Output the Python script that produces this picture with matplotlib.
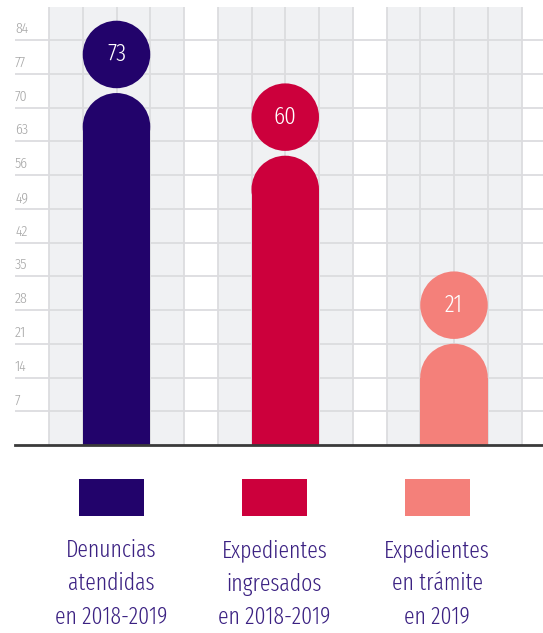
import matplotlib
matplotlib.use("Agg")
import matplotlib.pyplot as plt
from matplotlib.patches import Rectangle, Ellipse

categories = ["Denuncias\natendidas\nen 2018-2019",
              "Expedientes\ningresados\nen 2018-2019",
              "Expedientes\nen trámite\nen 2019"]
values = [73, 60, 21]
colors = ["#22036b", "#cc003c", "#f4807a"]
ytick_values = [7, 14, 21, 28, 35, 42, 49, 56, 63, 70, 77, 84]

W, H = 543, 633
FONT = ["Fira Sans Extra Condensed", "DejaVu Sans"]
fig = plt.figure(figsize=(W / 100, H / 100), dpi=100)

# chart axes: pixel x 15..543, y 7..445
x0p, x1p, y0p, y1p = 15, 543, 7, 445
ax = fig.add_axes([x0p / W, 1 - y1p / H, (x1p - x0p) / W, (y1p - y0p) / H])
cell = 33.75
xmin = -(49 - x0p) / cell
xmax = (x1p - 49) / cell
ymax = (y1p - y0p) / cell * 7
ax.set_xlim(xmin, xmax)
ax.set_ylim(0, ymax)
ax.axis("off")

bg = "#f0f1f3"
gl = "#dcdcdf"
centers = []
for i in range(len(values)):
    left = i * 5
    centers.append(left + 2)
    ax.add_patch(Rectangle((left, 0), 4, ymax, facecolor=bg, edgecolor="none", zorder=0))
    for k in range(5):
        ax.axvline(left + k, color=gl, lw=1.3, zorder=1)

for v in ytick_values:
    ax.axhline(v, color=gl, lw=1.3, zorder=1)
    ax.text(xmin, v + 2.3, str(v), ha="left", va="center", fontsize=11,
            color="#a8a8a8", family=FONT, fontweight=300, zorder=3)

# bars: rectangle + rounded top, circle label above
r_y = 7.0  # radius in y units (one cell)
for c, v, col in zip(centers, values, colors):
    ax.add_patch(Rectangle((c - 1, 0), 2, v - r_y, facecolor=col, edgecolor="none", zorder=2))
    ax.add_patch(Ellipse((c, v - r_y), 2, 2 * r_y, facecolor=col, edgecolor="none", zorder=2))
    cy = v + 8
    ax.add_patch(Ellipse((c, cy), 2, 2 * r_y, facecolor=col, edgecolor="none", zorder=2))
    ax.text(c, cy, str(v), ha="center", va="center", fontsize=18, color="white",
            family=FONT, fontweight=300, zorder=4)

ax.axhline(0, color="#3a3a3a", lw=2, zorder=5, clip_on=False)

# legend
leg_x = [111.5, 274.5, 437]
for lx, lab, col in zip(leg_x, categories, colors):
    fig.patches.append(Rectangle(((lx - 32.5) / W, 1 - 516 / H), 65 / W, 37 / H,
                                 transform=fig.transFigure, facecolor=col, edgecolor="none"))
    for j, line in enumerate(lab.split("\n")):
        yb = 557 + j * 33.5
        fig.text(lx / W, 1 - yb / H, line, ha="center", va="baseline", fontsize=17,
                 color="#3b2182", family=FONT, fontweight=300)

fig.savefig("out.png", dpi=100)
